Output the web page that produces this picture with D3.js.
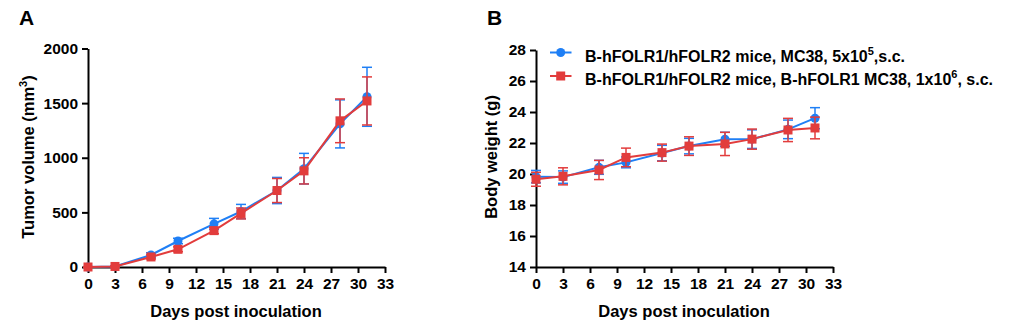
<!DOCTYPE html>
<html>
<head>
<meta charset="utf-8">
<script src="https://cdn.jsdelivr.net/npm/d3@7"></script>
<style>
  body { margin: 0; background: #fff; }
  svg { display: block; }
  svg text { font-family: "Liberation Sans", Arial, sans-serif; font-weight: bold; fill: #000; }
  .axis path, .axis line { stroke: #000; stroke-width: 2px; }
  .axis text { font-size: 15.5px; }
  .title { font-size: 16.5px; }
  .panel { font-size: 21px; }
  .legend { font-size: 16px; }
</style>
</head>
<body>
<svg id="chart" width="1013" height="329"></svg>
<script>
// Days measured (same for both panels)
const days = [0, 3, 7, 10, 14, 17, 21, 24, 28, 31];
const xTicks = [0, 3, 6, 9, 12, 15, 18, 21, 24, 27, 30, 33];

// Panel A: tumor volume (mm3), mean and SEM
const tumorBlue = [0, 5, 110, 238, 395, 508, 700, 900, 1310, 1558];
const tumorBlueErr = [0, 3, 20, 25, 50, 65, 120, 140, 220, 270];
const tumorRed = [0, 5, 92, 162, 333, 490, 700, 880, 1338, 1520];
const tumorRedErr = [0, 3, 18, 22, 28, 50, 110, 120, 200, 220];
const tumorTicks = [0, 500, 1000, 1500, 2000];

// Panel B: body weight (g), mean and SEM
const weightBlue = [19.83, 19.8, 20.43, 20.75, 21.35, 21.8, 22.24, 22.25, 22.88, 23.6];
const weightBlueErr = [0.4, 0.4, 0.45, 0.35, 0.5, 0.5, 0.45, 0.6, 0.6, 0.68];
const weightRed = [19.66, 19.85, 20.26, 21.07, 21.38, 21.8, 21.94, 22.25, 22.84, 22.97];
const weightRedErr = [0.45, 0.55, 0.62, 0.6, 0.55, 0.6, 0.75, 0.65, 0.75, 0.7];
const weightTicks = [14, 16, 18, 20, 22, 24, 26, 28];

const legendLabels = [
  ['B-hFOLR1/hFOLR2 mice, MC38, 5x10', '5', ',s.c.'],
  ['B-hFOLR1/hFOLR2 mice, B-hFOLR1 MC38, 1x10', '6', ', s.c.'],
];

const BLUE = '#1f7ff5';
const RED = '#e23c3c';

const svg = d3.select('#chart');

function drawPanel(opt) {
  const x = d3.scaleLinear().domain([0, 33]).range([opt.left, opt.left + 297]);
  const y = d3.scaleLinear().domain(opt.yDomain).range([267, opt.top]);

  const xa = svg.append('g')
    .attr('class', 'axis')
    .attr('transform', 'translate(0,267)')
    .call(d3.axisBottom(x).tickValues(xTicks).tickSize(6).tickSizeOuter(0).tickPadding(5));
  xa.attr('font-family', null).attr('font-size', null);

  const ya = svg.append('g')
    .attr('class', 'axis')
    .attr('transform', `translate(${opt.left},0)`)
    .call(d3.axisLeft(y).tickValues(opt.yTicks).tickFormat(d3.format('d'))
      .tickSize(6).tickSizeOuter(0).tickPadding(4));
  ya.attr('font-family', null).attr('font-size', null);

  // x title
  svg.append('text')
    .attr('class', 'title')
    .attr('x', opt.left + 148)
    .attr('y', 317)
    .attr('text-anchor', 'middle')
    .text('Days post inoculation');

  // y title
  const yt = svg.append('text')
    .attr('class', 'title')
    .attr('transform', `translate(${opt.left - opt.titleOffset},157) rotate(-90)`)
    .attr('text-anchor', 'middle');
  yt.append('tspan').text(opt.yTitle[0]);
  if (opt.yTitle.length > 1) {
    yt.append('tspan').attr('dy', -7).style('font-size', '11px').text(opt.yTitle[1]);
    yt.append('tspan').attr('dy', 7).text(opt.yTitle[2]);
  }

  // panel letter
  svg.append('text')
    .attr('class', 'panel')
    .attr('x', opt.letterX)
    .attr('y', 25)
    .text(opt.letter);

  const series = [
    { vals: opt.blue, err: opt.blueErr, color: BLUE, shape: 'circle' },
    { vals: opt.red, err: opt.redErr, color: RED, shape: 'square' },
  ];

  series.forEach((s) => {
    const g = svg.append('g');
    const pts = days.map((d, i) => ({ d, v: s.vals[i], e: s.err[i] }));

    // error bars
    pts.forEach((p) => {
      const cx = x(p.d);
      const y0 = y(p.v - p.e);
      const y1 = y(p.v + p.e);
      g.append('line').attr('x1', cx).attr('x2', cx).attr('y1', y0).attr('y2', y1)
        .attr('stroke', s.color).attr('stroke-width', 1.5);
      [y0, y1].forEach((yy) => {
        g.append('line').attr('x1', cx - 5).attr('x2', cx + 5).attr('y1', yy).attr('y2', yy)
          .attr('stroke', s.color).attr('stroke-width', 1.5);
      });
    });

    g.append('path')
      .datum(pts)
      .attr('fill', 'none')
      .attr('stroke', s.color)
      .attr('stroke-width', 2)
      .attr('d', d3.line().x((p) => x(p.d)).y((p) => y(p.v)));

    pts.forEach((p) => {
      if (s.shape === 'circle') {
        g.append('circle').attr('cx', x(p.d)).attr('cy', y(p.v)).attr('r', 4.5).attr('fill', s.color);
      } else {
        g.append('rect').attr('x', x(p.d) - 4.5).attr('y', y(p.v) - 4.5)
          .attr('width', 9).attr('height', 9).attr('fill', s.color);
      }
    });
  });
}

drawPanel({
  left: 88, top: 48.5, letter: 'A', letterX: 19, titleOffset: 54,
  yDomain: [0, 2000], yTicks: tumorTicks,
  yTitle: ['Tumor volume (mm', '3', ')'],
  blue: tumorBlue, blueErr: tumorBlueErr, red: tumorRed, redErr: tumorRedErr,
});

drawPanel({
  left: 536, top: 50, letter: 'B', letterX: 487, titleOffset: 39,
  yDomain: [14, 28], yTicks: weightTicks,
  yTitle: ['Body weight (g)'],
  blue: weightBlue, blueErr: weightBlueErr, red: weightRed, redErr: weightRedErr,
});

// legend (panel B)
const legendY = [52.5, 76];
[BLUE, RED].forEach((c, i) => {
  const ly = legendY[i];
  svg.append('line').attr('x1', 550).attr('x2', 571.5).attr('y1', ly).attr('y2', ly)
    .attr('stroke', c).attr('stroke-width', 2);
  if (i === 0) {
    svg.append('circle').attr('cx', 560.7).attr('cy', ly).attr('r', 4.5).attr('fill', c);
  } else {
    svg.append('rect').attr('x', 556.2).attr('y', ly - 4.5).attr('width', 9).attr('height', 9).attr('fill', c);
  }
  const t = svg.append('text').attr('class', 'legend').attr('x', 585).attr('y', ly + 9);
  const parts = legendLabels[i];
  t.append('tspan').text(parts[0]);
  t.append('tspan').attr('dy', -7).style('font-size', '11px').text(parts[1]);
  t.append('tspan').attr('dy', 7).text(parts[2]);
});
</script>
</body>
</html>
